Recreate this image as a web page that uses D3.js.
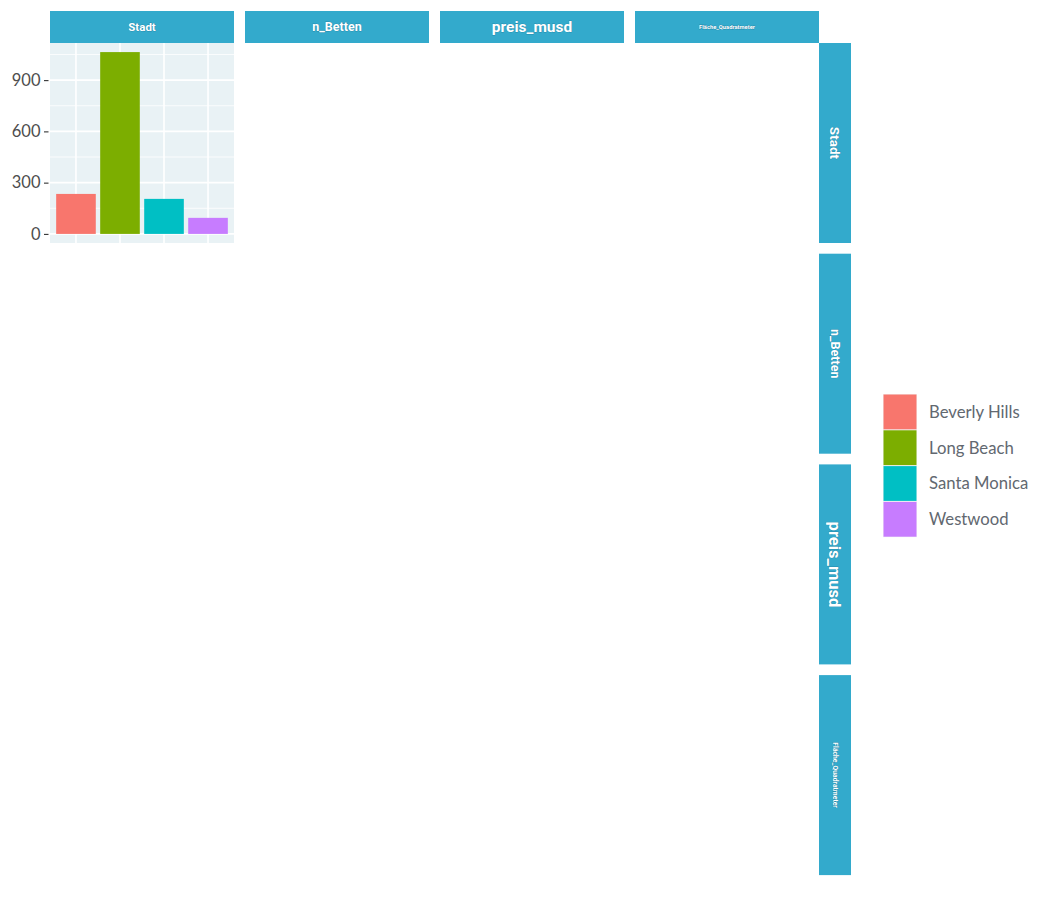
<!DOCTYPE html>
<html>
<head>
<meta charset="utf-8">
<script src="https://cdn.jsdelivr.net/npm/d3@7"></script>
<style>
  body { margin: 0; background: #fff; }
  svg { display: block; }
</style>
</head>
<body>
<svg id="chart" width="1050" height="900"></svg>
<script>
// data
const cities = ["Beverly Hills", "Long Beach", "Santa Monica", "Westwood"];
const counts = [234, 1064, 205, 94];
const cityColors = ["#F8766D", "#7CAE00", "#00BFC4", "#C77CFF"];
const variables = ["Stadt", "n_Betten", "preis_musd", "Fläche_Quadratmeter"];
const topStripSize = [11.5, 12.5, 15.5, 5.8];
const sideStripSize = [13.5, 12.5, 16.5, 6.8];
const yTicks = [0, 300, 600, 900];
const yMinor = [150, 450, 750, 1050];

const svg = d3.select("#chart");

// layout of the pairs grid
const gridLeft = 50, gridTop = 43;
const panelW = 184, panelH = 200, gapX = 11, gapY = 10.7;
const stripH = 32;
const stripColor = "#33AACC";
const panelBg = "#E9F2F5";

const colX = (i) => gridLeft + i * (panelW + gapX);
const rowY = (i) => gridTop + i * (panelH + gapY);
const gridRight = colX(3) + panelW;

// strip text style shared by top and side strips
function stripText(sel, sizes) {
  sel
    .attr("dy", "0.35em")
    .attr("text-anchor", "middle")
    .style("font-family", "Roboto, sans-serif")
    .style("font-weight", "bold")
    .style("font-size", (d, i) => sizes[i] + "px")
    .attr("fill", "#fff")
    .attr("stroke", "rgba(0,60,90,0.3)")
    .attr("stroke-width", 0.8)
    .style("paint-order", "stroke");
}

// top strips
const topStrips = svg.append("g");
topStrips.selectAll("rect")
  .data(variables)
  .join("rect")
  .attr("x", (d, i) => colX(i))
  .attr("y", gridTop - stripH)
  .attr("width", panelW)
  .attr("height", stripH)
  .attr("fill", stripColor);
topStrips.selectAll("text")
  .data(variables)
  .join("text")
  .text((d) => d)
  .attr("x", (d, i) => colX(i) + panelW / 2)
  .attr("y", gridTop - stripH / 2)
  .call(stripText, topStripSize);

// side strips
const sideStrips = svg.append("g");
sideStrips.selectAll("rect")
  .data(variables)
  .join("rect")
  .attr("x", gridRight)
  .attr("y", (d, i) => rowY(i))
  .attr("width", stripH)
  .attr("height", panelH)
  .attr("fill", stripColor);
sideStrips.selectAll("text")
  .data(variables)
  .join("text")
  .text((d) => d)
  .attr("transform", (d, i) =>
    `translate(${gridRight + stripH / 2},${rowY(i) + panelH / 2}) rotate(90)`)
  .call(stripText, sideStripSize);

// the one drawn panel: bar chart of Stadt
const panel = svg.append("g");
const x = d3.scaleBand()
  .domain(cities)
  .range([colX(0), colX(0) + panelW])
  .paddingInner(0.1)
  .paddingOuter(0.14);
const y = d3.scaleLinear()
  .domain([-0.05 * d3.max(counts), 1.05 * d3.max(counts)])
  .range([rowY(0) + panelH, rowY(0)]);

panel.append("rect")
  .attr("x", colX(0))
  .attr("y", rowY(0))
  .attr("width", panelW)
  .attr("height", panelH)
  .attr("fill", panelBg);

// grid lines
panel.selectAll(".minor")
  .data(yMinor)
  .join("line")
  .attr("class", "minor")
  .attr("x1", colX(0))
  .attr("x2", colX(0) + panelW)
  .attr("y1", (d) => y(d))
  .attr("y2", (d) => y(d))
  .attr("stroke", "#fff")
  .attr("stroke-width", 0.8);
panel.selectAll(".hmajor")
  .data(yTicks)
  .join("line")
  .attr("class", "hmajor")
  .attr("x1", colX(0))
  .attr("x2", colX(0) + panelW)
  .attr("y1", (d) => y(d))
  .attr("y2", (d) => y(d))
  .attr("stroke", "#fff")
  .attr("stroke-width", 1.6);
panel.selectAll(".vmajor")
  .data(cities)
  .join("line")
  .attr("class", "vmajor")
  .attr("x1", (d) => x(d) + x.bandwidth() / 2)
  .attr("x2", (d) => x(d) + x.bandwidth() / 2)
  .attr("y1", rowY(0))
  .attr("y2", rowY(0) + panelH)
  .attr("stroke", "#fff")
  .attr("stroke-width", 1.6);

// bars
panel.selectAll(".bar")
  .data(counts)
  .join("rect")
  .attr("class", "bar")
  .attr("x", (d, i) => x(cities[i]))
  .attr("y", (d) => y(d))
  .attr("width", x.bandwidth())
  .attr("height", (d) => y(0) - y(d))
  .attr("fill", (d, i) => cityColors[i]);

// y axis
const yAxis = svg.append("g")
  .attr("transform", `translate(${colX(0) - 1.5},0)`)
  .call(d3.axisLeft(y).tickValues(yTicks).tickSize(4.5).tickPadding(3.5));
yAxis.select(".domain").remove();
yAxis.selectAll("line").attr("stroke", "#333").attr("stroke-width", 1.1);
yAxis.selectAll("text")
  .style("font-family", "Lato, sans-serif")
  .style("font-size", "16.5px")
  .attr("fill", "#4D4D4D");

// legend
const legendX = 883, legendY = 394, keySize = 35.8;
const legend = svg.append("g");
legend.append("rect")
  .attr("x", legendX)
  .attr("y", legendY)
  .attr("width", 34)
  .attr("height", keySize * cities.length)
  .attr("fill", "#F2F2F2");
legend.selectAll(".key")
  .data(cities)
  .join("rect")
  .attr("class", "key")
  .attr("x", legendX + 0.5)
  .attr("y", (d, i) => legendY + i * keySize + 0.5)
  .attr("width", 33)
  .attr("height", keySize - 1)
  .attr("fill", (d, i) => cityColors[i]);
legend.selectAll("text")
  .data(cities)
  .join("text")
  .text((d) => d)
  .attr("x", legendX + 46)
  .attr("y", (d, i) => legendY + i * keySize + keySize / 2)
  .attr("dy", "0.35em")
  .style("font-family", "Lato, sans-serif")
  .style("font-size", "16.7px")
  .attr("fill", "#626870");
</script>
</body>
</html>
